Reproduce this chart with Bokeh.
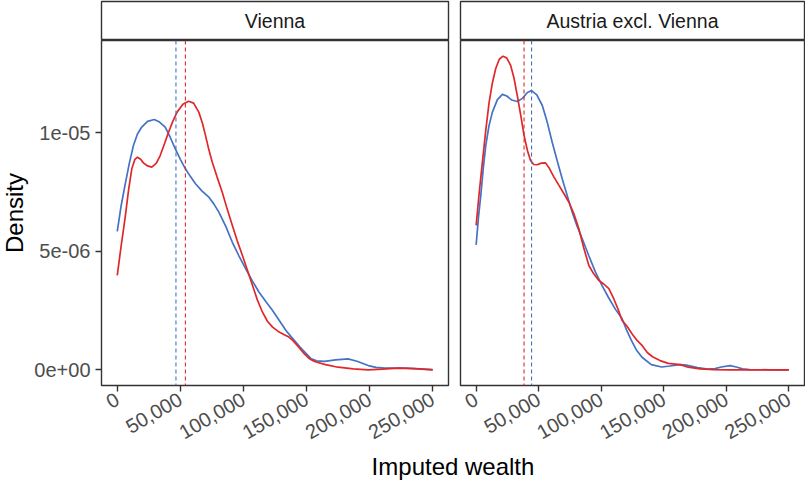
import numpy as np
from bokeh.plotting import figure
from bokeh.models import (Range1d, FixedTicker, CustomJSTickFormatter, Span,
                          ColumnDataSource)
from bokeh.layouts import row, column
from bokeh.embed import file_html
from bokeh.resources import INLINE
from bokeh.core.properties import value

# ---------------------------------------------------------------- data
facet_labels = ["Vienna", "Austria excl. Vienna"]
x_title = "Imputed wealth"
y_title = "Density"

x_ticks = [0, 50000, 100000, 150000, 200000, 250000]
x_tick_labels = ["0", "50,000", "100,000", "150,000", "200,000", "250,000"]
y_ticks = [0, 5e-06, 1e-05]
y_tick_labels = ["0e+00", "5e-06", "1e-05"]

DENSITY_UNIT = 1e-06  # curve heights below are given in units of 1e-06

# Vienna, blue series
vienna_blue_x = [0, 3000, 6100, 9500, 12800, 16000, 19400, 24000, 29300, 33500,
                 38000, 42000, 46000, 50000, 54000, 58000, 62000, 67000, 72600,
                 76500, 80500, 86000, 91200, 96500, 101800, 107000, 112400,
                 117700, 123100, 128400, 133700, 137700, 145000, 153700, 158000,
                 164300, 173000, 182900, 190000, 198900, 205000, 212100, 228100,
                 240000, 250000]
vienna_blue_y = [5.84, 6.90, 7.78, 8.70, 9.46, 9.95, 10.24, 10.48, 10.56, 10.45,
                 10.24, 9.80, 9.32, 8.88, 8.48, 8.15, 7.85, 7.55, 7.28,
                 7.00, 6.65, 6.05, 5.38, 4.80, 4.26, 3.75, 3.27,
                 2.88, 2.50, 2.08, 1.66, 1.40, 0.95, 0.46, 0.38,
                 0.36, 0.42, 0.46, 0.36, 0.18, 0.10, 0.07, 0.07,
                 0.04, 0.01]

# Vienna, red series
vienna_red_x = [0, 3000, 6100, 9000, 11500, 14000, 16000, 18500, 20700, 24000,
                27400, 31000, 34000, 37500, 40700, 44000, 47400, 52000, 56600,
                60500, 64600, 67500, 69900, 72500, 75300, 79000, 83200, 87000,
                91200, 95000, 99200, 103000, 107200, 111000, 115100, 119000,
                123100, 127500, 132400, 136000, 139100, 143500, 148300, 152000,
                156300, 165000, 175000, 187000, 198900, 210000, 222800, 235000,
                250000]
vienna_red_y = [3.98, 5.20, 6.37, 7.60, 8.48, 8.88, 8.97, 8.88, 8.73, 8.60,
                8.55, 8.72, 9.04, 9.55, 10.03, 10.48, 10.87, 11.20, 11.33,
                11.25, 10.87, 10.40, 9.89, 9.30, 8.76, 8.15, 7.49, 6.80,
                6.09, 5.45, 4.82, 4.22, 3.56, 2.95, 2.43, 2.05,
                1.80, 1.62, 1.48, 1.38, 1.24, 0.98, 0.67, 0.48,
                0.35, 0.22, 0.11, 0.04, 0.00, 0.03, 0.07, 0.05,
                0.00]

# Austria excl. Vienna, blue series
austria_blue_x = [0, 1800, 3700, 5700, 7700, 10300, 13000, 17000, 21000, 24500,
                  28500, 32900, 37000, 41000, 44300, 48500, 52900, 56800, 60800,
                  64800, 68800, 72800, 76800, 80800, 84800, 90000, 95400,
                  100700, 105700, 111400, 116700, 120500, 124000, 128000,
                  132600, 140000, 148300, 155000, 163000, 168000, 177000,
                  185200, 191000, 196000, 203000, 208000, 213000, 218700,
                  235000, 250000]
austria_blue_y = [5.27, 6.40, 7.35, 8.50, 9.46, 10.30, 10.87, 11.40, 11.62, 11.55,
                  11.38, 11.32, 11.45, 11.70, 11.78, 11.60, 11.15, 10.45, 9.60,
                  8.82, 8.06, 7.35, 6.65, 6.05, 5.53, 4.82, 4.12,
                  3.55, 3.06, 2.55, 2.15, 1.65, 1.25, 0.85,
                  0.53, 0.22, 0.12, 0.16, 0.22, 0.20, 0.09,
                  0.03, 0.05, 0.12, 0.18, 0.12, 0.04, 0.01,
                  0.00, 0.00]

# Austria excl. Vienna, red series
austria_red_x = [0, 2500, 5000, 7700, 10400, 13000, 15600, 18500, 21500, 24500,
                 27600, 30300, 32900, 35600, 38300, 41000, 43500, 46000, 48900,
                 52000, 55500, 58500, 62000, 66200, 70000, 74200, 78000, 82100,
                 86000, 90100, 94000, 98100, 102000, 106100, 110000, 113500,
                 116700, 120500, 124600, 128500, 132600, 137000, 141000,
                 147000, 153600, 163000, 169500, 178900, 190000, 202800,
                 225000, 250000]
austria_red_y = [6.09, 7.50, 8.76, 10.10, 11.29, 12.10, 12.70, 13.10, 13.23, 13.15,
                 12.84, 12.30, 11.57, 10.75, 9.89, 9.25, 8.83, 8.66, 8.65,
                 8.72, 8.73, 8.50, 8.15, 7.78, 7.45, 7.07, 6.60, 5.95,
                 5.15, 4.40, 4.05, 3.77, 3.62, 3.42, 3.00, 2.55,
                 2.08, 1.85, 1.52, 1.25, 1.03, 0.72, 0.55,
                 0.39, 0.27, 0.22, 0.11, 0.04, 0.01, 0.00,
                 0.00, 0.00]

# group means shown as dashed reference lines
vienna_mean_blue = 46500
vienna_mean_red = 54000
austria_mean_blue = 44300
austria_mean_red = 38300

# ---------------------------------------------------------------- style
BLUE = "#4472C4"
RED = "#E0282A"
BORDER = "#333333"
FONT = "Liberation Sans"
TICK_TEXT = "#4D4D4D"

X_MIN, X_MAX = min(x_ticks), max(x_ticks)
x_pad = 0.05 * (X_MAX - X_MIN)
y_top = max(max(vienna_blue_y), max(vienna_red_y),
            max(austria_blue_y), max(austria_red_y)) * DENSITY_UNIT
y_pad = 0.05 * y_top

# layout geometry (pixels)
TOTAL_W, TOTAL_H = 805, 480
YTITLE_W = 30          # column holding the rotated y-axis title
PANEL_LEFT = 71        # room for the y tick labels of the first panel
GAP_L, GAP_R = 6, 6    # half gaps between the two panels
RIGHT_PAD = 1
LEFT_W = 347
RIGHT_W = TOTAL_W - YTITLE_W - PANEL_LEFT - LEFT_W - GAP_L - GAP_R - RIGHT_PAD
STRIP_TOP, STRIP_H = 1, 39
FRAME_H = 345
AXIS_H = 66
PLOT_H = STRIP_TOP + STRIP_H + FRAME_H + AXIS_H
XTITLE_H = TOTAL_H - PLOT_H
XTITLE_MID = 466 - PLOT_H    # vertical centre of the x title inside its strip


def label_formatter(positions, names):
    return CustomJSTickFormatter(
        args=dict(positions=positions, names=names),
        code="""
        let best = 0;
        for (let i = 0; i < positions.length; i++) {
            if (Math.abs(positions[i] - tick) < Math.abs(positions[best] - tick)) best = i;
        }
        return names[best];
        """)


def bare_figure(frame_w, frame_h, left=0, right=0, top=0, bottom=0, xr=(0, 1), yr=(0, 1)):
    f = figure(frame_width=frame_w, frame_height=frame_h,
               x_range=Range1d(*xr), y_range=Range1d(*yr),
               x_axis_location=None, y_axis_location=None,
               min_border_left=left, min_border_right=right,
               min_border_top=top, min_border_bottom=bottom,
               output_backend="svg", toolbar_location=None)
    f.grid.visible = False
    f.outline_line_color = None
    return f


def make_strip(text, frame_w, left, right):
    s = bare_figure(frame_w, STRIP_H, left, right, STRIP_TOP, 0)
    s.outline_line_color = BORDER
    s.outline_line_width = 1.4
    s.text(x=[0.5], y=[0.5], text=[text], text_align="center",
           text_baseline="middle", text_font=value(FONT),
           text_font_size="19.5px", text_color="#1A1A1A")
    return s


def make_panel(bx, by, rx, ry, mean_b, mean_r, frame_w, left, right, show_y):
    p = figure(frame_width=frame_w, frame_height=FRAME_H,
               x_range=Range1d(X_MIN - x_pad, X_MAX + x_pad),
               y_range=Range1d(-y_pad, y_top + y_pad),
               min_border_left=left, min_border_right=right,
               min_border_top=0, min_border_bottom=AXIS_H,
               y_axis_location="left" if show_y else None,
               output_backend="svg", toolbar_location=None)
    p.grid.visible = False
    p.outline_line_color = BORDER
    p.outline_line_width = 1.4

    for sp_loc, col in ((mean_b, BLUE), (mean_r, RED)):
        p.add_layout(Span(location=sp_loc, dimension="height", line_color=col,
                          line_width=1.1, line_dash="4 3"))

    src_b = ColumnDataSource(dict(x=bx, y=[v * DENSITY_UNIT for v in by]))
    src_r = ColumnDataSource(dict(x=rx, y=[v * DENSITY_UNIT for v in ry]))
    p.line("x", "y", source=src_b, line_color=BLUE, line_width=1.7)
    p.line("x", "y", source=src_r, line_color=RED, line_width=1.7)

    axes = [(p.xaxis[0], x_ticks, x_tick_labels)]
    if show_y:
        axes.append((p.yaxis[0], y_ticks, y_tick_labels))
    for ax, ticks, labels in axes:
        ax.ticker = FixedTicker(ticks=ticks)
        ax.formatter = label_formatter(ticks, labels)
        ax.major_label_text_font = FONT
        ax.major_label_text_font_size = "20px"
        ax.major_label_text_color = TICK_TEXT
        ax.major_tick_out = 6
        ax.major_tick_in = 0
        ax.minor_tick_out = 0
        ax.minor_tick_in = 0
        ax.major_tick_line_color = BORDER
        ax.major_tick_line_width = 1.4
        ax.axis_line_color = None
    p.xaxis[0].major_label_orientation = np.pi / 6
    p.xaxis[0].major_label_standoff = 6
    if show_y:
        p.yaxis[0].major_label_standoff = 5
    return p


left_panel = make_panel(vienna_blue_x, vienna_blue_y, vienna_red_x, vienna_red_y,
                        vienna_mean_blue, vienna_mean_red, LEFT_W, PANEL_LEFT, GAP_L, True)
right_panel = make_panel(austria_blue_x, austria_blue_y, austria_red_x, austria_red_y,
                         austria_mean_blue, austria_mean_red, RIGHT_W, GAP_R, RIGHT_PAD, False)
left_strip = make_strip(facet_labels[0], LEFT_W, PANEL_LEFT, GAP_L)
right_strip = make_strip(facet_labels[1], RIGHT_W, GAP_R, RIGHT_PAD)

# rotated y-axis title, centred on the panel frames (screen-pixel ranges)
ytitle_fig = bare_figure(YTITLE_W, PLOT_H, xr=(0, YTITLE_W), yr=(PLOT_H, 0))
ytitle_fig.text(x=[14], y=[STRIP_TOP + STRIP_H + FRAME_H / 2], text=[y_title],
                angle=np.pi / 2, text_align="center", text_baseline="middle",
                text_font=value(FONT), text_font_size="24px", text_color="#000000")

# shared x-axis title centred under both panels
xtitle_w = TOTAL_W - YTITLE_W - PANEL_LEFT - RIGHT_PAD
xtitle_fig = bare_figure(xtitle_w, XTITLE_H, left=YTITLE_W + PANEL_LEFT,
                         right=RIGHT_PAD, yr=(XTITLE_H, 0))
xtitle_fig.text(x=[0.5], y=[XTITLE_MID], text=[x_title], text_align="center",
                text_baseline="middle", text_font=value(FONT),
                text_font_size="24px", text_color="#000000")

layout = column(
    row(ytitle_fig,
        column(left_strip, left_panel, spacing=0),
        column(right_strip, right_panel, spacing=0), spacing=0),
    xtitle_fig, spacing=0)

open("out.html", "w").write(file_html(layout, INLINE))
